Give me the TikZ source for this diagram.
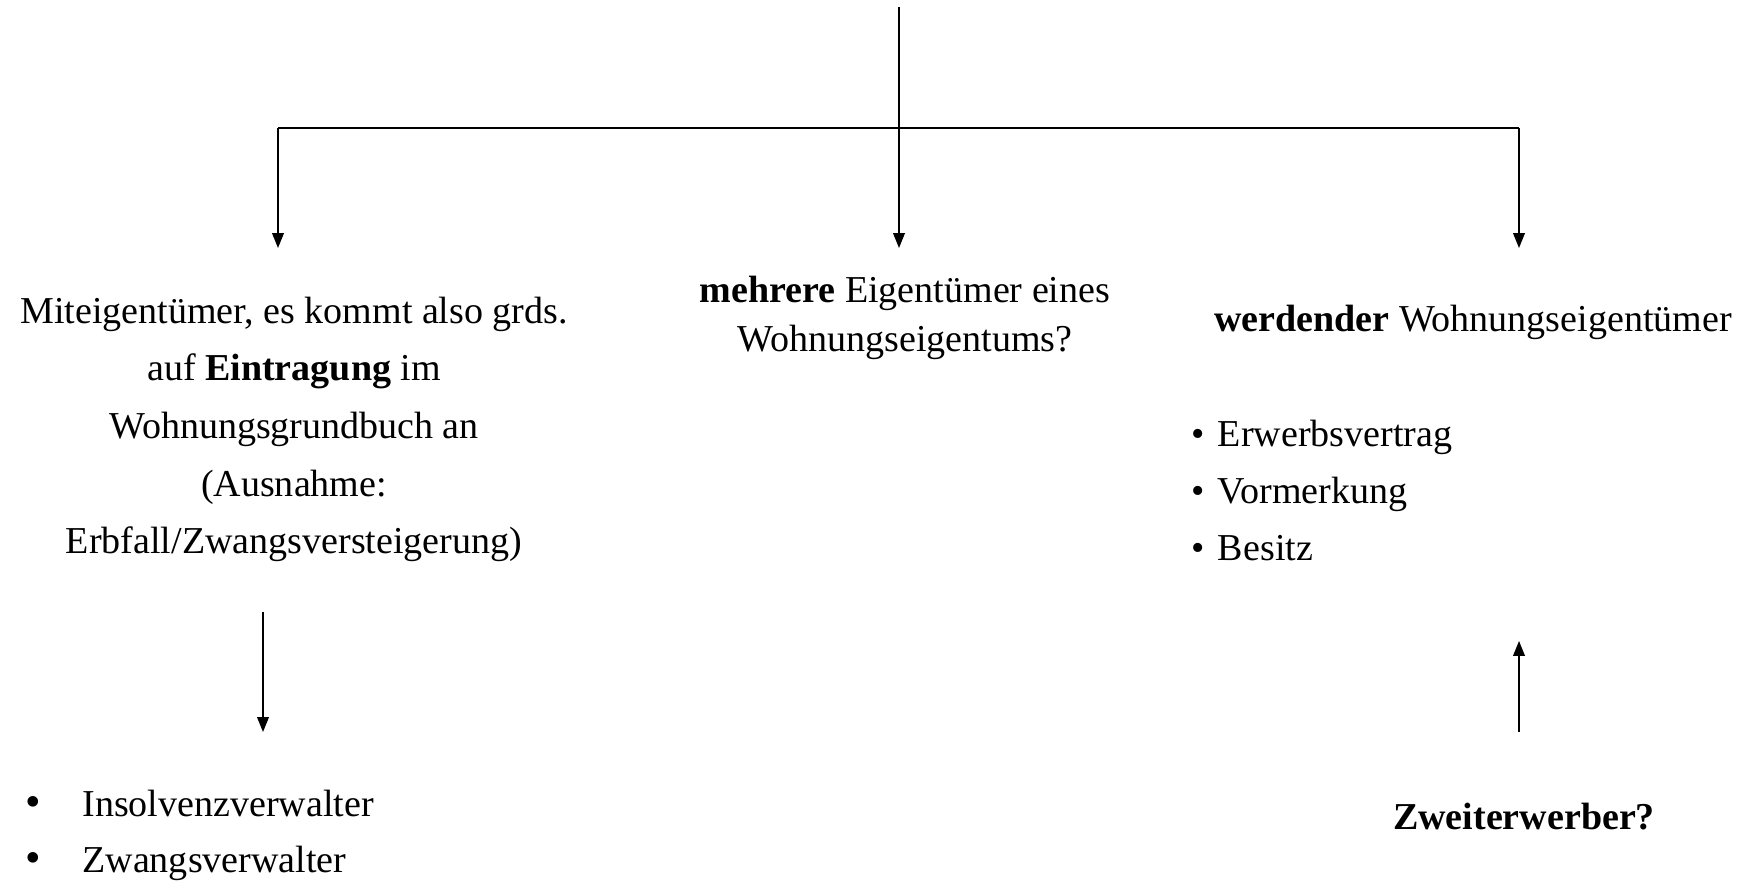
\documentclass[tikz,border=0pt]{standalone}
\usepackage{fontspec}
\setmainfont{Liberation Serif}
\usetikzlibrary{arrows.meta}

\newcommand{\punkt}{{\fontsize{14}{14}\selectfont\textbullet}\hspace{13pt}}

\begin{document}
\begin{tikzpicture}
          [x=0.0111cm, y=-0.0111cm, every node/.style={inner sep=0, font=\fontsize{12}{14}\selectfont}, every path/.style={line width=0.45pt, black}, pfeil/.style={-{Triangle[length=4.7pt,width=3.7pt]}}]

          \useasboundingbox (0,0) rectangle (1753,884);

          \coordinate (top) at (899,7);
          \coordinate (b1) at (278,128);
          \coordinate (b2) at (899,128);
          \coordinate (b3) at (1519,128);
          \coordinate (t1) at (278,248);
          \coordinate (t2) at (899,248);
          \coordinate (t3) at (1519,248);
          \coordinate (s1) at (263,612);
          \coordinate (e1) at (263,732);
          \coordinate (s2) at (1519,732);
          \coordinate (e2) at (1519,641);

          \node[align=center, anchor=north, font=\fontsize{12}{18.2}\selectfont] (mit) at (294,296) {Miteigentümer, es kommt also grds.\\ auf \textbf{Eintragung} im\\ Wohnungsgrundbuch an\\ (Ausnahme:\\ Erbfall/Zwangsversteigerung)};
          \node[align=center, anchor=north, font=\fontsize{12}{15.6}\selectfont] (mehr) at (905,275) {\textbf{mehrere} Eigentümer eines\\ Wohnungseigentums?};
          \node[anchor=base] (werd) at (1473,332) {\textbf{werdender} Wohnungseigentümer};
          \node[anchor=base west] (erw) at (1191,447) {\textbullet\hspace{4.1pt}Erwerbsvertrag};
          \node[anchor=base west] (vor) at (1191,504) {\textbullet\hspace{4.1pt}Vormerkung};
          \node[anchor=base west] (bes) at (1191,561) {\textbullet\hspace{4.1pt}Besitz};
          \node[anchor=base west] (ins) at (25,817) {\punkt Insolvenzverwalter};
          \node[anchor=base west] (zwa) at (25,873) {\punkt Zwangsverwalter};
          \node[anchor=base, font=\fontsize{12}{14}\selectfont\bfseries] (zwei) at (1524,830) {Zweiterwerber?};

          \draw (top) -- (b2);
          \draw (b1) -- (b3);
          \draw[pfeil] (b1) -- (t1);
          \draw[pfeil] (b2) -- (t2);
          \draw[pfeil] (b3) -- (t3);
          \draw[pfeil] (s1) -- (e1);
          \draw[pfeil] (s2) -- (e2);

        \end{tikzpicture}
\end{document}
